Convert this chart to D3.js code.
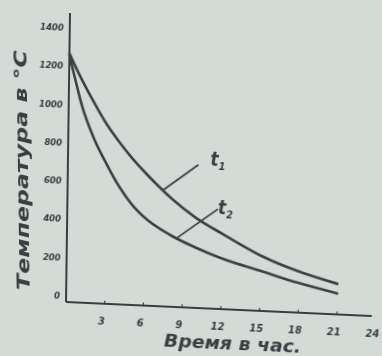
<!DOCTYPE html>
<html>
<head>
<meta charset="utf-8">
<script src="https://cdn.jsdelivr.net/npm/d3@7"></script>
<style>
  html, body { margin: 0; padding: 0; background: #d2dbd5; }
  svg { display: block; }
</style>
</head>
<body>
<svg id="chart"></svg>
<script>
// cooling curves
const hours = [0, 0.5, 1, 2, 3, 4, 5, 6, 8, 10, 12, 15, 18, 21];
const t1 = [1300, 1230, 1165, 1045, 935, 845, 765, 695, 570, 470, 395, 290, 215, 160];
const t2 = [1290, 1160, 1035, 860, 730, 615, 525, 460, 375, 315, 265, 210, 155, 110];
const seriesNames = ["1", "2"];
const labelHours = [7.4, 8.5];
const xTicks = [3, 6, 9, 12, 15, 18, 21, 24];
const yTicks = [0, 200, 400, 600, 800, 1000, 1200, 1400];
const xTitle = "Время в час.";
const yTitle = "Температура в °С";

const width = 382, height = 356;
const ink = "#3b3d42";
const font = "'DejaVu Sans Condensed', 'DejaVu Sans', sans-serif";

const svg = d3.select("#chart")
    .attr("width", width)
    .attr("height", height)
    .style("background", "#d2dbd5");

const defs = svg.append("defs");
defs.append("filter").attr("id", "soft")
    .append("feGaussianBlur").attr("stdDeviation", 0.45);

// the page was scanned a bit skewed, so the plot frame is sheared
const g = svg.append("g")
    .attr("transform", "matrix(1,0.0459,-0.0138,1,66,302)")
    .attr("filter", "url(#soft)");

const x = d3.scaleLinear().domain([0, 24]).range([0, 309.6]);
const y = d3.scaleLinear().domain([0, 1500]).range([0, -287]);

// axes
g.append("line")
    .attr("x1", x(0)).attr("x2", x(23.7))
    .attr("y1", y(0)).attr("y2", y(0))
    .attr("stroke", ink).attr("stroke-width", 2);
g.append("line")
    .attr("x1", x(0)).attr("x2", x(0))
    .attr("y1", y(0)).attr("y2", y(1510))
    .attr("stroke", ink).attr("stroke-width", 2);

g.append("g").selectAll("line")
    .data(xTicks.slice(0, -1))
    .join("line")
    .attr("x1", d => x(d)).attr("x2", d => x(d))
    .attr("y1", y(0)).attr("y2", y(0) - 3)
    .attr("stroke", ink).attr("stroke-width", 1.2);

g.append("g")
    .attr("font-family", font)
    .attr("font-weight", "bold")
    .attr("font-style", "italic")
    .attr("font-size", 11)
    .attr("fill", ink)
    .attr("text-anchor", "middle")
    .selectAll("text")
    .data(xTicks)
    .join("text")
    .attr("x", d => x(d) - 3)
    .attr("y", 21)
    .text(d => d);

g.append("g")
    .attr("font-family", font)
    .attr("font-weight", "bold")
    .attr("font-style", "italic")
    .attr("font-size", 9.5)
    .attr("fill", ink)
    .attr("text-anchor", "end")
    .selectAll("text")
    .data(yTicks)
    .join("text")
    .attr("x", -6)
    .attr("y", d => y(d) - 3)
    .text(d => d);

// curves
const line = d3.line()
    .x((d, i) => x(hours[i]))
    .y(d => y(d))
    .curve(d3.curveMonotoneX);

g.append("g")
    .attr("fill", "none")
    .attr("stroke", ink)
    .attr("stroke-width", 2.6)
    .attr("stroke-linecap", "round")
    .selectAll("path")
    .data([t1, t2])
    .join("path")
    .attr("d", line);

// leader lines + t1 / t2 labels
const leaders = [
  {name: seriesNames[0], vals: t1, at: labelHours[0], dx: 35, dy: -27, tx: 12, ty: 0},
  {name: seriesNames[1], vals: t2, at: labelHours[1], dx: 41, dy: -31, tx: 0, ty: 5}
];
leaders.forEach(l => {
  const v = d3.scaleLinear().domain(hours).range(l.vals)(l.at);
  const px = x(l.at), py = y(v);
  g.append("line")
      .attr("x1", px).attr("y1", py)
      .attr("x2", px + l.dx).attr("y2", py + l.dy)
      .attr("stroke", ink).attr("stroke-width", 1.6);
  const t = g.append("text")
      .attr("x", px + l.dx + l.tx)
      .attr("y", py + l.dy + l.ty)
      .attr("font-family", font)
      .attr("font-weight", "bold")
      .attr("font-style", "italic")
      .attr("font-size", 19)
      .attr("fill", ink);
  t.append("tspan").text("t");
  t.append("tspan").attr("font-size", 11).attr("dy", 4).text(l.name);
});

// axis titles
g.append("text")
    .attr("x", 167).attr("y", 40)
    .attr("text-anchor", "middle")
    .attr("font-family", font)
    .attr("font-weight", "bold")
    .attr("font-style", "italic")
    .attr("font-size", 17)
    .attr("textLength", 137)
    .attr("lengthAdjust", "spacingAndGlyphs")
    .attr("fill", ink)
    .text(xTitle);

svg.append("text")
    .attr("transform", "translate(28,170) rotate(-90.8)")
    .attr("text-anchor", "middle")
    .attr("filter", "url(#soft)")
    .attr("font-family", font)
    .attr("font-weight", "bold")
    .attr("font-style", "italic")
    .attr("font-size", 17)
    .attr("textLength", 240)
    .attr("lengthAdjust", "spacingAndGlyphs")
    .attr("fill", ink)
    .text(yTitle);
</script>
</body>
</html>
